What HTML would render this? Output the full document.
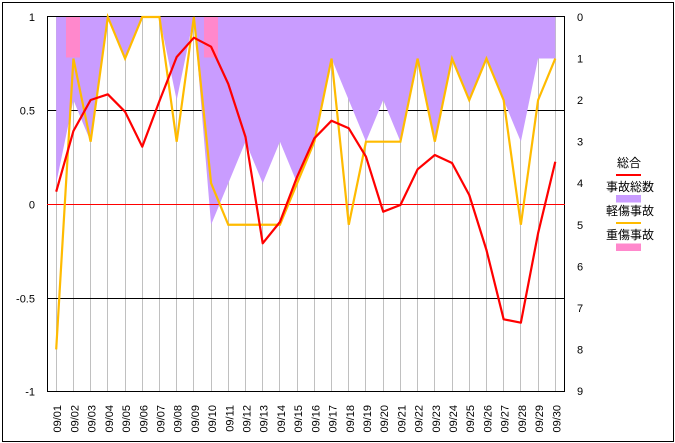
<!DOCTYPE html>
<html><head><meta charset="utf-8"><style>
html,body{margin:0;padding:0;background:#fff;}
svg{display:block;}
text{font-family:"Liberation Sans","Noto Sans CJK JP",sans-serif;fill:#000;}
</style></head><body>
<svg width="675" height="443" viewBox="0 0 675 443" xmlns="http://www.w3.org/2000/svg">
<rect x="0" y="0" width="675" height="443" fill="#fff"/>
<rect x="2.5" y="2.5" width="671" height="439" fill="none" stroke="#000" stroke-width="1"/>
<g stroke="#c0c0c0" stroke-width="1">
<line x1="56.5" y1="17" x2="56.5" y2="391"/><line x1="73.5" y1="17" x2="73.5" y2="391"/><line x1="90.5" y1="17" x2="90.5" y2="391"/><line x1="107.5" y1="17" x2="107.5" y2="391"/><line x1="125.5" y1="17" x2="125.5" y2="391"/><line x1="142.5" y1="17" x2="142.5" y2="391"/><line x1="159.5" y1="17" x2="159.5" y2="391"/><line x1="176.5" y1="17" x2="176.5" y2="391"/><line x1="193.5" y1="17" x2="193.5" y2="391"/><line x1="211.5" y1="17" x2="211.5" y2="391"/><line x1="228.5" y1="17" x2="228.5" y2="391"/><line x1="245.5" y1="17" x2="245.5" y2="391"/><line x1="262.5" y1="17" x2="262.5" y2="391"/><line x1="279.5" y1="17" x2="279.5" y2="391"/><line x1="297.5" y1="17" x2="297.5" y2="391"/><line x1="314.5" y1="17" x2="314.5" y2="391"/><line x1="331.5" y1="17" x2="331.5" y2="391"/><line x1="348.5" y1="17" x2="348.5" y2="391"/><line x1="365.5" y1="17" x2="365.5" y2="391"/><line x1="383.5" y1="17" x2="383.5" y2="391"/><line x1="400.5" y1="17" x2="400.5" y2="391"/><line x1="417.5" y1="17" x2="417.5" y2="391"/><line x1="434.5" y1="17" x2="434.5" y2="391"/><line x1="452.5" y1="17" x2="452.5" y2="391"/><line x1="469.5" y1="17" x2="469.5" y2="391"/><line x1="486.5" y1="17" x2="486.5" y2="391"/><line x1="503.5" y1="17" x2="503.5" y2="391"/><line x1="520.5" y1="17" x2="520.5" y2="391"/><line x1="538.5" y1="17" x2="538.5" y2="391"/><line x1="555.5" y1="17" x2="555.5" y2="391"/>
</g>
<g stroke="#000" stroke-width="1">
<line x1="47" y1="16.5" x2="565" y2="16.5"/>
<line x1="47" y1="110.5" x2="565" y2="110.5"/>
<line x1="47" y1="298.5" x2="565" y2="298.5"/>
<line x1="47" y1="391.5" x2="565" y2="391.5"/>
<line x1="47.5" y1="16" x2="47.5" y2="392"/>
<line x1="564.5" y1="16" x2="564.5" y2="392"/>
</g>
<polygon fill="#c99cff" points="56.2,17 56.2,183.22 73.41,100.11 90.62,141.67 107.83,17 125.04,58.56 142.25,17 159.46,17 176.67,100.11 193.88,17 211.09,224.78 228.3,183.22 245.51,141.67 262.72,183.22 279.93,141.67 297.14,183.22 314.35,141.67 331.56,58.56 348.77,100.11 365.98,141.67 383.19,100.11 400.4,141.67 417.61,58.56 434.82,141.67 452.03,58.56 469.24,100.11 486.45,58.56 503.66,100.11 520.87,141.67 538.08,58.56 555.29,58.56 555.29,17"/>
<rect x="66" y="17" width="14" height="40.5" fill="#ff88cc"/>
<rect x="204" y="17" width="14" height="40.5" fill="#ff88cc"/>
<line x1="47" y1="204.5" x2="565" y2="204.5" stroke="#ff0000" stroke-width="1"/>
<polyline fill="none" stroke="#ffbb00" stroke-width="2.2" stroke-linejoin="miter" points="56.2,349.44 73.41,58.56 90.62,141.67 107.83,17 125.04,58.56 142.25,17 159.46,17 176.67,141.67 193.88,17 211.09,183.22 228.3,224.78 245.51,224.78 262.72,224.78 279.93,224.78 297.14,183.22 314.35,141.67 331.56,58.56 348.77,224.78 365.98,141.67 383.19,141.67 400.4,141.67 417.61,58.56 434.82,141.67 452.03,58.56 469.24,100.11 486.45,58.56 503.66,100.11 520.87,224.78 538.08,100.11 555.29,58.56"/>
<polyline fill="none" stroke="#ff0000" stroke-width="2.2" stroke-linejoin="round" points="56.2,191.7 73.41,131 90.62,100 107.83,94.3 125.04,111.7 142.25,146.7 159.46,101 176.67,57 193.88,37.7 211.09,46.7 228.3,84 245.51,137 262.72,243.3 279.93,222 297.14,176.7 314.35,138.3 331.56,120.7 348.77,128.3 365.98,156.7 383.19,211.7 400.4,205 417.61,169.3 434.82,155 452.03,163 469.24,195 486.45,250 503.66,319.3 520.87,322.7 538.08,233.3 555.29,161.7"/>
<g font-size="11" text-anchor="end">
<text x="35" y="21">1</text>
<text x="35" y="114.5">0.5</text>
<text x="35" y="208.5">0</text>
<text x="35" y="302.5">-0.5</text>
<text x="35" y="395.5">-1</text>
</g>
<g font-size="11" text-anchor="start">
<text x="577" y="21">0</text>
<text x="577" y="62.6">1</text>
<text x="577" y="104.1">2</text>
<text x="577" y="145.7">3</text>
<text x="577" y="187.2">4</text>
<text x="577" y="228.8">5</text>
<text x="577" y="270.3">6</text>
<text x="577" y="311.9">7</text>
<text x="577" y="353.4">8</text>
<text x="577" y="395">9</text>
</g>
<g font-size="11" text-anchor="end">
<text transform="translate(61.2,405) rotate(-90)">09/01</text>
<text transform="translate(78.41,405) rotate(-90)">09/02</text>
<text transform="translate(95.62,405) rotate(-90)">09/03</text>
<text transform="translate(112.83,405) rotate(-90)">09/04</text>
<text transform="translate(130.04,405) rotate(-90)">09/05</text>
<text transform="translate(147.25,405) rotate(-90)">09/06</text>
<text transform="translate(164.46,405) rotate(-90)">09/07</text>
<text transform="translate(181.67,405) rotate(-90)">09/08</text>
<text transform="translate(198.88,405) rotate(-90)">09/09</text>
<text transform="translate(216.09,405) rotate(-90)">09/10</text>
<text transform="translate(233.3,405) rotate(-90)">09/11</text>
<text transform="translate(250.51,405) rotate(-90)">09/12</text>
<text transform="translate(267.72,405) rotate(-90)">09/13</text>
<text transform="translate(284.93,405) rotate(-90)">09/14</text>
<text transform="translate(302.14,405) rotate(-90)">09/15</text>
<text transform="translate(319.35,405) rotate(-90)">09/16</text>
<text transform="translate(336.56,405) rotate(-90)">09/17</text>
<text transform="translate(353.77,405) rotate(-90)">09/18</text>
<text transform="translate(370.98,405) rotate(-90)">09/19</text>
<text transform="translate(388.19,405) rotate(-90)">09/20</text>
<text transform="translate(405.4,405) rotate(-90)">09/21</text>
<text transform="translate(422.61,405) rotate(-90)">09/22</text>
<text transform="translate(439.82,405) rotate(-90)">09/23</text>
<text transform="translate(457.03,405) rotate(-90)">09/24</text>
<text transform="translate(474.24,405) rotate(-90)">09/25</text>
<text transform="translate(491.45,405) rotate(-90)">09/26</text>
<text transform="translate(508.66,405) rotate(-90)">09/27</text>
<text transform="translate(525.87,405) rotate(-90)">09/28</text>
<text transform="translate(543.08,405) rotate(-90)">09/29</text>
<text transform="translate(560.29,405) rotate(-90)">09/30</text>
</g>
<g font-size="12" text-anchor="middle">
<text x="629" y="167">総合</text>
<rect x="616" y="174" width="25" height="2" fill="#ff0000"/>
<text x="630" y="191">事故総数</text>
<rect x="616" y="195" width="25" height="7.5" fill="#c99cff"/>
<text x="630" y="215">軽傷事故</text>
<rect x="616" y="222" width="25" height="2" fill="#ffbb00"/>
<text x="630" y="239">重傷事故</text>
<rect x="616" y="243.5" width="25" height="7.5" fill="#ff88cc"/>
</g>
</svg>
</body></html>
